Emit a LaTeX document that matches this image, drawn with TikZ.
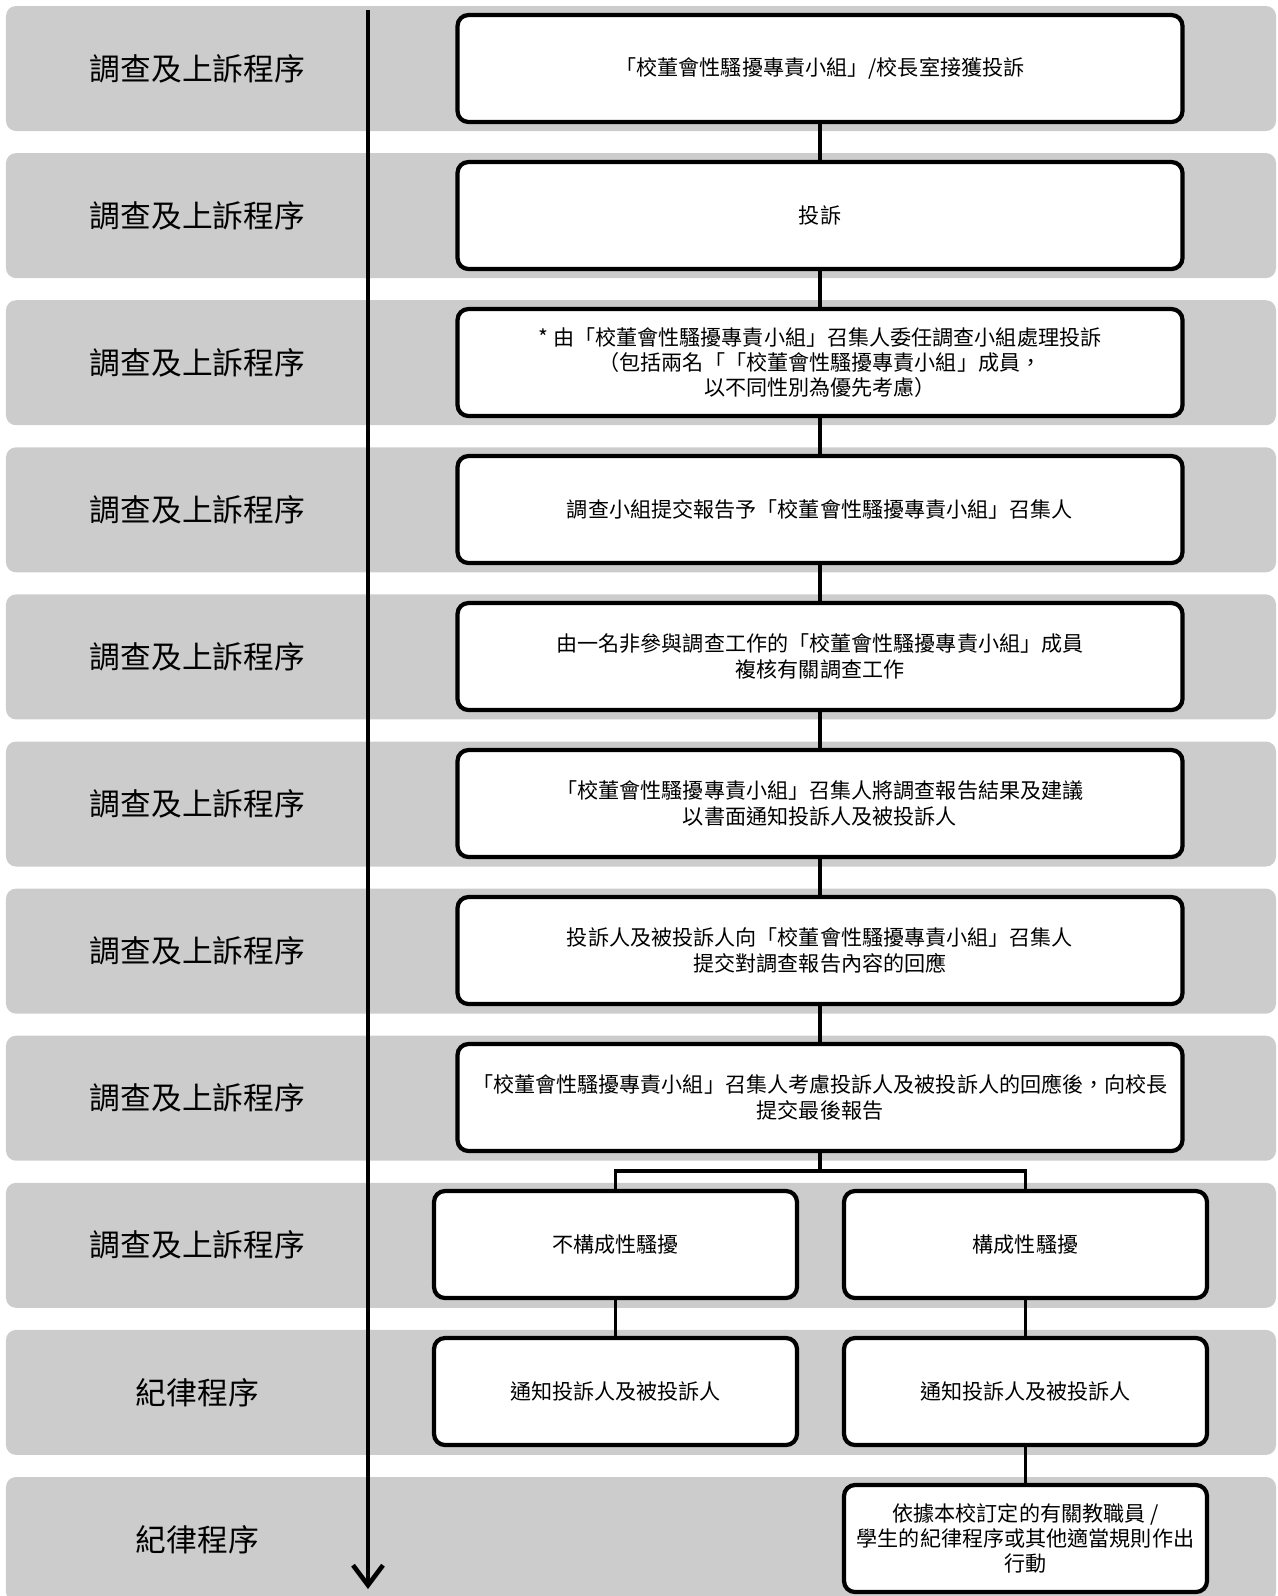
\documentclass[tikz,border=0pt]{standalone}
\usepackage{fontspec}
\setmainfont{Noto Sans CJK TC}
\usetikzlibrary{arrows.meta, positioning}
\definecolor{bandgray}{RGB}{204,204,204}

\begin{document}
\begin{tikzpicture}[
  node distance=0.8cm,
  stage/.style={rectangle, draw, line width=2.4pt, outer sep=0pt, rounded corners=0.22cm, fill=white, minimum width=14.5cm, minimum height=2.14cm, align=center, font=\fontsize{12}{14.4}\selectfont},
  half/.style={stage, minimum width=7.26cm},
  lane/.style={font=\fontsize{17.5}{20}\selectfont},
  band/.style={fill=bandgray, rounded corners=0.2cm},
  link/.style={line width=2.2pt},
  flow/.style={-{Straight Barb[length=0.4cm, width=0.6cm]}, line width=2.6pt}
]
\useasboundingbox (0,0) rectangle (25.54,-31.92);

% grey rows and their titles
\foreach \i in {0,...,10}
  \fill[band] (0.12,{-0.12-2.942*\i}) rectangle (25.52,{-2.62-2.942*\i});
\foreach \t [count=\i from 0] in {調查及上訴程序,調查及上訴程序,調查及上訴程序,調查及上訴程序,調查及上訴程序,調查及上訴程序,調查及上訴程序,調查及上訴程序,調查及上訴程序,紀律程序,紀律程序}
  \node[lane] (lane\i) at (3.95,{-1.37-2.942*\i}) {\t};

% time line
\coordinate (start) at (7.36,-0.2);
\coordinate (finish) at (7.36,-31.78);
\draw[flow] (start) -- (finish);

% main steps
\node[stage] (receive) at (16.4,-1.37) {「校董會性騷擾專責小組」/校長室接獲投訴};
\node[stage, below=of receive] (complaint) {投訴};
\node[stage, below=of complaint] (appoint) {* 由「校董會性騷擾專責小組」召集人委任調查小組處理投訴\\（包括兩名「「校董會性騷擾專責小組」成員，\\以不同性別為優先考慮）};
\node[stage, below=of appoint] (report) {調查小組提交報告予「校董會性騷擾專責小組」召集人};
\node[stage, below=of report] (review) {由一名非參與調查工作的「校董會性騷擾專責小組」成員\\複核有關調查工作};
\node[stage, below=of review] (notify) {「校董會性騷擾專責小組」召集人將調查報告結果及建議\\以書面通知投訴人及被投訴人};
\node[stage, below=of notify] (respond) {投訴人及被投訴人向「校董會性騷擾專責小組」召集人\\提交對調查報告內容的回應};
\node[stage, below=of respond] (final) {「校董會性騷擾專責小組」召集人考慮投訴人及被投訴人的回應後，向校長\\提交最後報告};

% two outcomes
\node[half, below=of final, xshift=-4.09cm] (nohar) {不構成性騷擾};
\node[half, below=of final, xshift=4.11cm] (har) {構成性騷擾};
\node[half, below=of nohar] (tellno) {通知投訴人及被投訴人};
\node[half, below=of har] (tellyes) {通知投訴人及被投訴人};
\node[half, below=of tellyes] (action) {依據本校訂定的有關教職員 /\\學生的紀律程序或其他適當規則作出\\行動};

\foreach \a/\b in {receive/complaint, complaint/appoint, appoint/report, report/review, review/notify, notify/respond, respond/final, nohar/tellno, har/tellyes, tellyes/action}
  \draw[link] (\a) -- (\b);
\coordinate[below=0.4cm of final] (fork);
\draw[link] (final) -- (fork);
\draw[link] (nohar.north) |- (fork) -| (har.north);
\end{tikzpicture}
\end{document}
